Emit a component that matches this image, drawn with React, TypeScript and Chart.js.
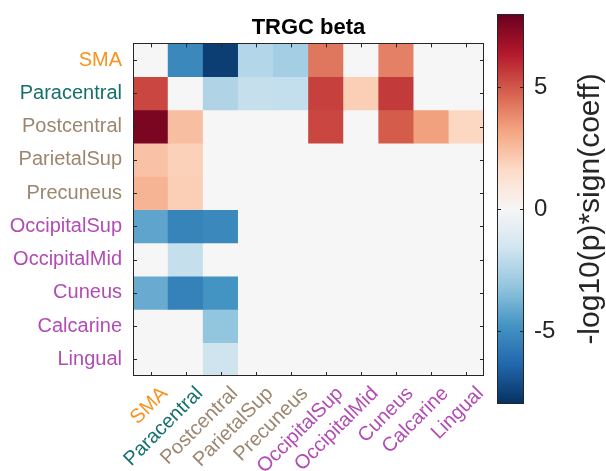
import React, { useEffect, useRef } from "react";
import { Chart, registerables } from "chart.js";

Chart.register(...registerables);

// ---------------- data ----------------
const regions = [
  "SMA",
  "Paracentral",
  "Postcentral",
  "ParietalSup",
  "Precuneus",
  "OccipitalSup",
  "OccipitalMid",
  "Cuneus",
  "Calcarine",
  "Lingual",
];

const ORANGE = "#F7931E";
const TEAL = "#13706D";
const TAN = "#9C8670";
const PURPLE = "#B24CB5";
const regionColors = [ORANGE, TEAL, TAN, TAN, TAN, PURPLE, PURPLE, PURPLE, PURPLE, PURPLE];

// one row per target region (y), columns are the source regions (x)
const rowSMA = [0, -5.2, -7.6, -2.35, -2.75, 4.3, 0, 4.05, 0, 0];
const rowParacentral = [5.35, 0, -2.45, -1.9, -1.95, 5.5, 2.0, 5.65, 0, 0];
const rowPostcentral = [7.6, 2.45, 0, 0, 0, 5.35, 0, 4.9, 3.3, 1.7];
const rowParietalSup = [2.35, 1.9, 0, 0, 0, 0, 0, 0, 0, 0];
const rowPrecuneus = [2.75, 2.0, 0, 0, 0, 0, 0, 0, 0, 0];
const rowOccipitalSup = [-4.25, -5.35, -5.2, 0, 0, 0, 0, 0, 0, 0];
const rowOccipitalMid = [0, -1.9, 0, 0, 0, 0, 0, 0, 0, 0];
const rowCuneus = [-4.05, -5.45, -4.8, 0, 0, 0, 0, 0, 0, 0];
const rowCalcarine = [0, 0, -3.2, 0, 0, 0, 0, 0, 0, 0];
const rowLingual = [0, 0, -1.65, 0, 0, 0, 0, 0, 0, 0];

const matrix = [
  rowSMA,
  rowParacentral,
  rowPostcentral,
  rowParietalSup,
  rowPrecuneus,
  rowOccipitalSup,
  rowOccipitalMid,
  rowCuneus,
  rowCalcarine,
  rowLingual,
];

const colorLimit = 8;
const colorbarTicks = [-5, 0, 5];
const titleText = "TRGC beta";
const colorbarLabel = "-log10(p)*sign(coeff)";

// RdBu colormap (low -> high)
const rdbu = [
  [5, 48, 97],
  [33, 102, 172],
  [67, 147, 195],
  [146, 197, 222],
  [209, 229, 240],
  [246, 246, 246],
  [253, 219, 199],
  [244, 165, 130],
  [214, 96, 77],
  [178, 24, 43],
  [103, 0, 31],
];

function valueToColor(v: number): string {
  const t = Math.max(0, Math.min(1, (v + colorLimit) / (2 * colorLimit)));
  const pos = t * (rdbu.length - 1);
  const i = Math.min(rdbu.length - 2, Math.floor(pos));
  const f = pos - i;
  const a = rdbu[i];
  const b = rdbu[i + 1];
  const c = a.map((x, k) => Math.round(x + (b[k] - x) * f));
  return `rgb(${c[0]},${c[1]},${c[2]})`;
}

const FONT = "'Liberation Sans', Arial, Helvetica, sans-serif";
const AXIS_COLOR = "#262626";

export default function App() {
  const mainRef = useRef<HTMLCanvasElement>(null);
  const cbRef = useRef<HTMLCanvasElement>(null);

  useEffect(() => {
    Chart.defaults.font.family = FONT;

    const framePlugin = {
      id: "frame",
      afterDraw(chart: any) {
        const { ctx, chartArea: a, scales } = chart;
        ctx.save();
        ctx.strokeStyle = AXIS_COLOR;
        ctx.lineWidth = 1;
        const tl = 4;
        ctx.beginPath();
        scales.x.ticks.forEach((_t: any, i: number) => {
          const px = Math.round(scales.x.getPixelForTick(i)) + 0.5;
          ctx.moveTo(px, a.top);
          ctx.lineTo(px, a.top + tl);
          ctx.moveTo(px, a.bottom);
          ctx.lineTo(px, a.bottom - tl);
        });
        scales.y.ticks.forEach((t: any) => {
          const py = Math.round(scales.y.getPixelForValue(t.value)) + 0.5;
          ctx.moveTo(a.left, py);
          ctx.lineTo(a.left + tl, py);
          ctx.moveTo(a.right, py);
          ctx.lineTo(a.right - tl, py);
        });
        ctx.stroke();
        ctx.strokeRect(Math.round(a.left) + 0.5, Math.round(a.top) + 0.5, Math.round(a.right - a.left) - 1, Math.round(a.bottom - a.top) - 1);
        ctx.restore();
      },
    };

    const datasets = matrix.map((row, i) => ({
      label: regions[i],
      data: row.map(() => [i - 0.5, i + 0.5]),
      backgroundColor: row.map((v) => valueToColor(v)),
      borderWidth: 0,
      barPercentage: 1,
      categoryPercentage: 1,
      grouped: false,
    }));

    const main = new Chart(mainRef.current!, {
      type: "bar",
      data: { labels: regions, datasets: datasets as any },
      options: {
        animation: false,
        responsive: false,
        layout: { padding: { left: 0, right: 6, top: 0, bottom: 0 } },
        plugins: {
          legend: { display: false },
          tooltip: { enabled: false },
          title: {
            display: true,
            text: titleText,
            color: "#000",
            fullSize: false,
            font: { size: 22, weight: "bold", family: FONT },
            padding: { top: 15, bottom: 2 },
          },
        },
        scales: {
          x: {
            type: "category",
            offset: true,
            grid: { display: false, drawTicks: false },
            border: { display: false },
            ticks: {
              autoSkip: false,
              minRotation: 45,
              maxRotation: 45,
              padding: 6,
              labelOffset: 14,
              font: { size: 20, family: FONT },
              color: (c: any) => regionColors[c.index],
            },
            afterFit: (s: any) => {
              s.height = 95;
            },
          },
          y: {
            type: "linear",
            min: -0.5,
            max: 9.5,
            reverse: true,
            grid: { display: false, drawTicks: false },
            border: { display: false },
            afterBuildTicks: (s: any) => {
              s.ticks = regions.map((_r, i) => ({ value: i }));
            },
            ticks: {
              padding: 11,
              font: { size: 20, family: FONT },
              color: (c: any) => regionColors[c.tick.value],
              callback: (v: any) => regions[v as number],
            },
            afterFit: (s: any) => {
              s.width = 133;
              s.paddingTop = 0;
              s.paddingBottom = 0;
            },
          },
        },
      } as any,
      plugins: [framePlugin],
    });

    const cbPlugin = {
      id: "cbframe",
      afterDraw(chart: any) {
        const { ctx, chartArea: a, scales } = chart;
        ctx.save();
        ctx.strokeStyle = AXIS_COLOR;
        ctx.lineWidth = 1;
        ctx.strokeRect(Math.round(a.left) + 0.5, Math.round(a.top) + 0.5, Math.round(a.right - a.left) - 1, Math.round(a.bottom - a.top) - 1);
        ctx.beginPath();
        scales.y.ticks.forEach((t: any) => {
          const py = Math.round(scales.y.getPixelForValue(t.value)) + 0.5;
          ctx.moveTo(a.left, py);
          ctx.lineTo(a.left + 4, py);
          ctx.moveTo(a.right, py);
          ctx.lineTo(a.right - 4, py);
        });
        ctx.stroke();
        ctx.translate(101, 209);
        ctx.rotate(-Math.PI / 2);
        ctx.fillStyle = AXIS_COLOR;
        ctx.font = `30px ${FONT}`;
        ctx.textAlign = "center";
        ctx.textBaseline = "middle";
        ctx.fillText(colorbarLabel, 0, 0);
        ctx.restore();
      },
    };

    const cb = new Chart(cbRef.current!, {
      type: "bar",
      data: {
        labels: [""],
        datasets: [
          {
            data: [[-colorLimit, colorLimit]] as any,
            borderWidth: 0,
            barPercentage: 1,
            categoryPercentage: 1,
            backgroundColor: (c: any) => {
              const chart = c.chart;
              const ys = chart.scales?.y;
              if (!chart.chartArea || !ys) return "#ccc";
              const g = chart.ctx.createLinearGradient(
                0,
                ys.getPixelForValue(-colorLimit),
                0,
                ys.getPixelForValue(colorLimit)
              );
              const n = 40;
              for (let k = 0; k <= n; k++) {
                const v = -colorLimit + (2 * colorLimit * k) / n;
                g.addColorStop(k / n, valueToColor(v));
              }
              return g;
            },
          },
        ],
      },
      options: {
        animation: false,
        responsive: false,
        layout: { padding: { left: 7, right: 0, top: 14, bottom: 67 } },
        plugins: { legend: { display: false }, tooltip: { enabled: false } },
        scales: {
          x: { display: false },
          y: {
            position: "right",
            min: -colorLimit,
            max: colorLimit,
            grid: { display: false, drawTicks: false },
            border: { display: false },
            afterBuildTicks: (s: any) => {
              s.ticks = colorbarTicks.map((v) => ({ value: v }));
            },
            ticks: {
              padding: 10,
              color: AXIS_COLOR,
              font: { size: 24, family: FONT },
              callback: (v: any) => String(v),
            },
            afterFit: (s: any) => {
              s.width = 82;
              s.paddingTop = 0;
              s.paddingBottom = 0;
            },
          },
        },
      } as any,
      plugins: [cbPlugin],
    });

    return () => {
      main.destroy();
      cb.destroy();
    };
  }, []);

  return (
    <div
      style={{
        position: "fixed",
        left: 0,
        top: 0,
        width: 606,
        height: 471,
        background: "#fff",
        overflow: "hidden",
      }}
    >
      <canvas ref={mainRef} width={490} height={471} style={{ position: "absolute", left: 0, top: 0 }} />
      <canvas ref={cbRef} width={116} height={471} style={{ position: "absolute", left: 490, top: 0 }} />
    </div>
  );
}
